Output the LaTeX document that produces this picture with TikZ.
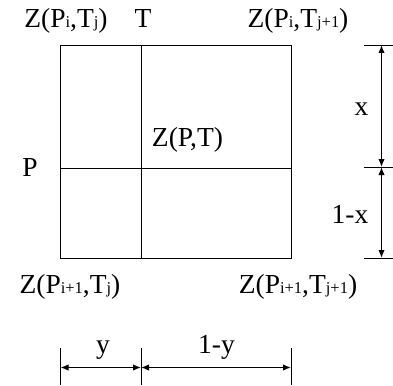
\documentclass[tikz,border=0pt]{standalone}
\usepackage{fontspec}
\setmainfont{Liberation Serif}
\usetikzlibrary{arrows.meta}
\newcommand{\sbs}[1]{{\fontsize{16.5}{16.5}\selectfont #1}}
\begin{document}
\begin{tikzpicture}[x=1pt,y=-1pt,
  lbl/.style={inner sep=0pt,anchor=base,font=\fontsize{27.5}{27.5}\selectfont},
  thin line/.style={line width=1pt},
  dim/.style={line width=1.4pt,{Latex[length=8pt,width=6.5pt]}-{Latex[length=8pt,width=6.5pt]}},
  tick/.style={line width=0.9pt}]
\useasboundingbox (0,0) rectangle (393,385);
% box corners
\coordinate (tl) at (60.5,46);
\coordinate (tr) at (291,46);
\coordinate (bl) at (60.5,258);
\coordinate (br) at (291,258);
\coordinate (vt) at (141,46);
\coordinate (vb) at (141,258);
\coordinate (hl) at (60.5,168);
\coordinate (hr) at (291,168);
\draw[thin line] (tl) rectangle (br);
\draw[thin line] (vt) -- (vb);
\draw[thin line] (hl) -- (hr);
% right dimension
\coordinate (rt1) at (364,45);
\coordinate (rt2) at (393,45);
\coordinate (rm1) at (364,167);
\coordinate (rm2) at (393,167);
\coordinate (rb1) at (364,258);
\coordinate (rb2) at (393,258);
\coordinate (ra) at (381.5,45);
\coordinate (rb) at (381.5,167);
\coordinate (rc) at (381.5,258);
\draw[tick] (rt1) -- (rt2);
\draw[tick] (rm1) -- (rm2);
\draw[tick] (rb1) -- (rb2);
\draw[dim] (ra) -- (rb);
\draw[dim] (rb) -- (rc);
% bottom dimension
\coordinate (b1t) at (60.5,348);
\coordinate (b1b) at (60.5,385);
\coordinate (b2t) at (141,348);
\coordinate (b2b) at (141,385);
\coordinate (b3t) at (291,348);
\coordinate (b3b) at (291,385);
\coordinate (ba) at (60.5,367.5);
\coordinate (bb) at (141,367.5);
\coordinate (bc) at (291,367.5);
\draw[tick] (b1t) -- (b1b);
\draw[tick] (b2t) -- (b2b);
\draw[tick] (b3t) -- (b3b);
\draw[dim] (ba) -- (bb);
\draw[dim] (bb) -- (bc);
% labels
\node[lbl] (ztl) at (66,28) {Z(P\sbs{i},T\sbs{j})};
\node[lbl] (tt) at (143,28) {T};
\node[lbl] (ztr) at (298,28) {Z(P\sbs{i},T\sbs{j+1})};
\node[lbl] (zpt) at (187.5,146.5) {Z(P,T)};
\node[lbl] (pp) at (30,176) {P};
\node[lbl] (xx) at (361.5,116) {x};
\node[lbl] (omx) at (350,223) {1-x};
\node[lbl] (zbl) at (70,293) {Z(P\sbs{i+1},T\sbs{j})};
\node[lbl] (zbr) at (298,293) {Z(P\sbs{i+1},T\sbs{j+1})};
\node[lbl] (yy) at (103,353) {y};
\node[lbl] (omy) at (216.5,353) {1-y};
\end{tikzpicture}
\end{document}
